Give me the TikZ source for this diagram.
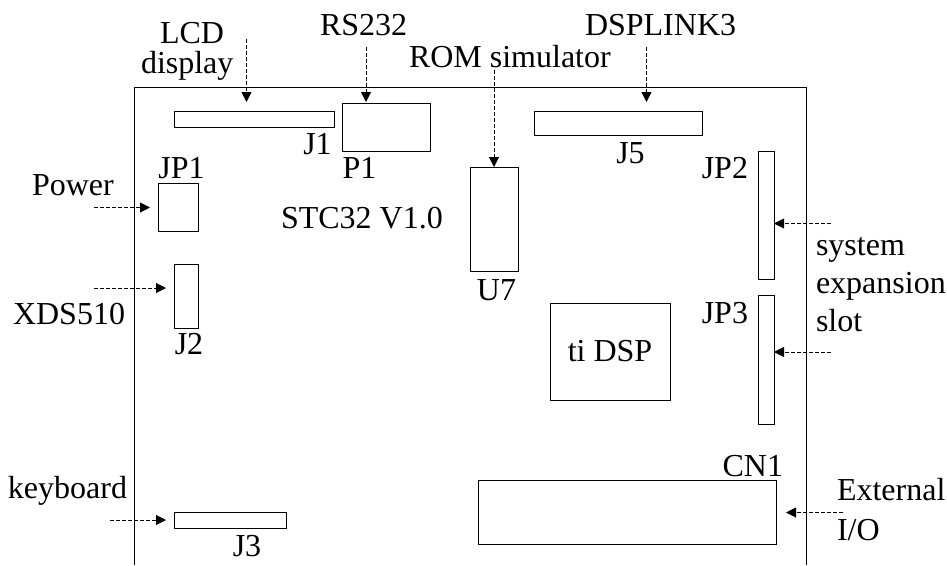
\documentclass[tikz,border=0pt]{standalone}
\usepackage{fontspec}
\setmainfont{Liberation Serif}
\usetikzlibrary{positioning,arrows.meta}

\begin{document}
\begin{tikzpicture}[
  x=1pt, y=-1pt,
  every node/.style={font=\fontsize{32}{38}\selectfont},
  part/.style={draw, line width=1pt, inner sep=0pt, outer sep=0pt, align=center},
  tag/.style={inner sep=0pt, outer sep=0pt, text height=22pt, text depth=0pt},
  lbl/.style={inner sep=0pt, outer sep=0pt, anchor=base west},
  feed/.style={-{Triangle[length=10pt,width=10pt]}, line width=1pt, dash pattern=on 4pt off 2pt},
]
\useasboundingbox (0,0) rectangle (947,565);

\coordinate (bdnw) at (134,87);
\coordinate (bdne) at (806.5,87);
\coordinate (bdsw) at (134,565);
\coordinate (bdse) at (806.5,565);
\draw[line width=1pt] (bdsw) -- (bdnw) -- (bdne) -- (bdse);

\node[part, minimum width=160pt, minimum height=16pt, below right=24pt and 40pt of bdnw] (j1) {};
\node[part, minimum width=88pt, minimum height=48pt, below right=-8pt and 8pt of j1.north east] (p1) {};
\node[part, minimum width=40pt, minimum height=48pt, below right=96pt and 24pt of bdnw] (jp1) {};
\node[part, minimum width=24pt, minimum height=64pt, below left=33pt and 0pt of jp1.south east] (j2) {};
\node[part, minimum width=112pt, minimum height=16pt, below right=425pt and 40pt of bdnw] (j3) {};
\node[part, minimum width=48pt, minimum height=104pt, below right=80pt and 336pt of bdnw] (u7) {};
\node[part, minimum width=168pt, minimum height=24pt, below right=24pt and 400pt of bdnw] (j5) {};
\node[part, minimum width=16pt, minimum height=128pt, below right=64pt and 624pt of bdnw] (jp2) {};
\node[part, minimum width=16pt, minimum height=129pt, below=16pt of jp2] (jp3) {};
\node[part, minimum width=120pt, minimum height=97pt, below right=216pt and 416pt of bdnw] (dsp) {ti DSP};
\node[part, minimum width=298pt, minimum height=64pt, below right=393pt and 344pt of bdnw] (cn1) {};

\node[tag, below=5pt of j1, xshift=63.5pt] (j1tag) {J1};
\node[tag, below=5pt of p1, xshift=-26.5pt] (p1tag) {P1};
\node[tag, above=5pt of jp1, xshift=3.5pt] (jp1tag) {JP1};
\node[tag, below=4pt of j2, xshift=3pt] (j2tag) {J2};
\node[tag, below=6pt of j3, xshift=17pt] (j3tag) {J3};
\node[tag, below=7pt of u7, xshift=2.5pt] (u7tag) {U7};
\node[tag, below=6pt of j5, xshift=12.5pt] (j5tag) {J5};
\node[tag, below left=5pt and 10pt of jp2.north west] (jp2tag) {JP2};
\node[tag, below left=6pt and 10pt of jp3.north west] (jp3tag) {JP3};
\node[tag, above left=4pt and -7pt of cn1.north east] (cn1tag) {CN1};

\node[lbl] (board) at (281,228) {STC32 V1.0};
\node[lbl] (lcd) at (160,43) {LCD};
\node[lbl] (display) at (141,73) {display};
\node[lbl] (rs232) at (320,35) {RS232};
\node[lbl] (rom) at (409,67) {ROM simulator};
\node[lbl] (dsplink) at (585,35) {DSPLINK3};
\node[lbl] (power) at (32,195) {Power};
\node[lbl] (xds) at (13,324) {XDS510};
\node[lbl] (keyboard) at (8,498) {keyboard};
\node[lbl] (system) at (816,255) {system};
\node[lbl] (expansion) at (816,293) {expansion};
\node[lbl] (slot) at (816,331) {slot};
\node[lbl] (external) at (837,500) {External};
\node[lbl] (io) at (837,540) {I/O};

\coordinate (lcdin) at (246.5,39);
\coordinate (rsin) at (366,47);
\coordinate (romin) at (494,70);
\coordinate (linkin) at (646.5,47);
\coordinate (powerin) at (94,207.5);
\coordinate (xdsin) at (94,288);
\coordinate (keyin) at (110,520);
\coordinate (slotin) at (831,223.5);
\coordinate (slotinb) at (831,352);
\coordinate (ioin) at (843,512.5);

\draw[feed, shorten >=9pt] (lcdin) -- (lcdin |- j1.north);
\draw[feed, shorten >=1pt] (rsin) -- (rsin |- p1.north);
\draw[feed] (romin) -- (u7.north);
\draw[feed, shorten >=9pt] (linkin) -- (linkin |- j5.north);
\draw[feed, shorten >=8pt] (powerin) -- (powerin -| jp1.west);
\draw[feed, shorten >=8pt] (xdsin) -- (xdsin -| j2.west);
\draw[feed, shorten >=8pt] (keyin) -- (keyin -| j3.west);
\draw[feed] (slotin) -- (slotin -| jp2.east);
\draw[feed] (slotinb) -- (slotinb -| jp3.east);
\draw[feed, shorten >=10pt] (ioin) -- (ioin -| cn1.east);
\end{tikzpicture}
\end{document}
